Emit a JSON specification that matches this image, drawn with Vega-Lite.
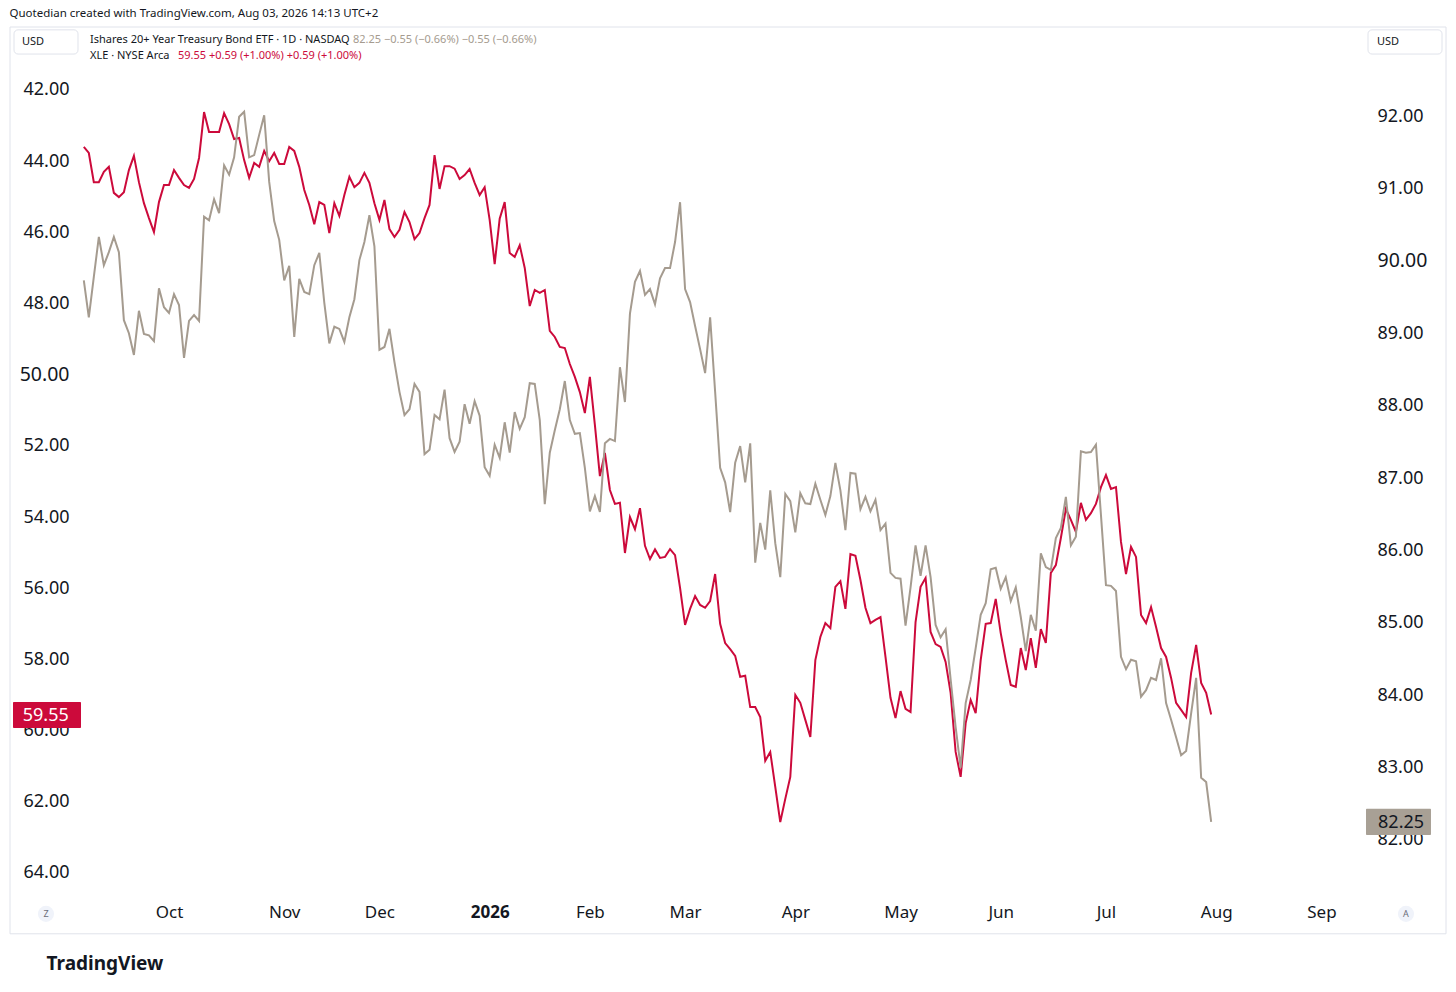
{
  "$schema": "https://vega.github.io/schema/vega-lite/v6.json",
  "width": 1285,
  "height": 868,
  "autosize": {"type": "none"},
  "padding": {"left": 80, "top": 27, "right": 91, "bottom": 97},
  "background": "white",
  "config": {
    "view": {"stroke": null},
    "font": "Noto Sans",
    "text": {"font": "Noto Sans"}
  },
  "title": {
    "text": "Quotedian created with TradingView.com, Aug 03, 2026 14:13 UTC+2",
    "anchor": "start",
    "dx": 0,
    "offset": 7,
    "fontSize": 11.5,
    "fontWeight": "normal",
    "color": "#131722"
  },
  "data": {
    "values": [
      {"t": -17, "xle": 43.60, "tlt": 89.73},
      {"t": -16, "xle": 43.77, "tlt": 89.22},
      {"t": -15, "xle": 44.59, "tlt": 89.78},
      {"t": -14, "xle": 44.59, "tlt": 90.33},
      {"t": -13, "xle": 44.30, "tlt": 89.94},
      {"t": -12, "xle": 44.16, "tlt": 90.12},
      {"t": -11, "xle": 44.89, "tlt": 90.33},
      {"t": -10, "xle": 45.01, "tlt": 90.12},
      {"t": -9, "xle": 44.87, "tlt": 89.18},
      {"t": -8, "xle": 44.25, "tlt": 89.00},
      {"t": -7, "xle": 43.85, "tlt": 88.70},
      {"t": -6, "xle": 44.59, "tlt": 89.31},
      {"t": -5, "xle": 45.18, "tlt": 88.99},
      {"t": -4, "xle": 45.60, "tlt": 88.97},
      {"t": -3, "xle": 45.99, "tlt": 88.89},
      {"t": -2, "xle": 45.15, "tlt": 89.62},
      {"t": -1, "xle": 44.67, "tlt": 89.36},
      {"t": 0, "xle": 44.67, "tlt": 89.28},
      {"t": 1, "xle": 44.25, "tlt": 89.54},
      {"t": 2, "xle": 44.47, "tlt": 89.39},
      {"t": 3, "xle": 44.67, "tlt": 88.66},
      {"t": 4, "xle": 44.75, "tlt": 89.17},
      {"t": 5, "xle": 44.50, "tlt": 89.25},
      {"t": 6, "xle": 43.91, "tlt": 89.17},
      {"t": 7, "xle": 42.62, "tlt": 90.61},
      {"t": 8, "xle": 43.18, "tlt": 90.56},
      {"t": 9, "xle": 43.18, "tlt": 90.85},
      {"t": 10, "xle": 43.18, "tlt": 90.66},
      {"t": 11, "xle": 42.65, "tlt": 91.32},
      {"t": 12, "xle": 42.96, "tlt": 91.19},
      {"t": 13, "xle": 43.38, "tlt": 91.43},
      {"t": 14, "xle": 43.35, "tlt": 91.99},
      {"t": 15, "xle": 43.97, "tlt": 92.06},
      {"t": 16, "xle": 44.47, "tlt": 91.43},
      {"t": 17, "xle": 44.05, "tlt": 91.46},
      {"t": 18, "xle": 44.16, "tlt": 91.74},
      {"t": 19, "xle": 43.71, "tlt": 92.01},
      {"t": 20, "xle": 44.00, "tlt": 91.09},
      {"t": 21, "xle": 43.77, "tlt": 90.55},
      {"t": 22, "xle": 44.08, "tlt": 90.29},
      {"t": 23, "xle": 44.08, "tlt": 89.73},
      {"t": 24, "xle": 43.60, "tlt": 89.93},
      {"t": 25, "xle": 43.71, "tlt": 88.95},
      {"t": 26, "xle": 44.16, "tlt": 89.75},
      {"t": 27, "xle": 44.81, "tlt": 89.57},
      {"t": 28, "xle": 45.23, "tlt": 89.54},
      {"t": 29, "xle": 45.77, "tlt": 89.94},
      {"t": 30, "xle": 45.15, "tlt": 90.11},
      {"t": 31, "xle": 45.23, "tlt": 89.42},
      {"t": 32, "xle": 46.02, "tlt": 88.86},
      {"t": 33, "xle": 45.18, "tlt": 89.09},
      {"t": 34, "xle": 45.54, "tlt": 89.06},
      {"t": 35, "xle": 44.95, "tlt": 88.88},
      {"t": 36, "xle": 44.44, "tlt": 89.22},
      {"t": 37, "xle": 44.73, "tlt": 89.47},
      {"t": 38, "xle": 44.61, "tlt": 90.01},
      {"t": 39, "xle": 44.33, "tlt": 90.26},
      {"t": 40, "xle": 44.61, "tlt": 90.63},
      {"t": 41, "xle": 45.18, "tlt": 90.20},
      {"t": 42, "xle": 45.65, "tlt": 88.77},
      {"t": 43, "xle": 45.09, "tlt": 88.81},
      {"t": 44, "xle": 45.91, "tlt": 89.06},
      {"t": 45, "xle": 46.13, "tlt": 88.60},
      {"t": 46, "xle": 45.93, "tlt": 88.19},
      {"t": 47, "xle": 45.43, "tlt": 87.87},
      {"t": 48, "xle": 45.71, "tlt": 87.95},
      {"t": 49, "xle": 46.19, "tlt": 88.30},
      {"t": 50, "xle": 46.02, "tlt": 88.19},
      {"t": 51, "xle": 45.60, "tlt": 87.33},
      {"t": 52, "xle": 45.23, "tlt": 87.39},
      {"t": 53, "xle": 43.83, "tlt": 87.87},
      {"t": 54, "xle": 44.78, "tlt": 87.81},
      {"t": 55, "xle": 44.14, "tlt": 88.22},
      {"t": 56, "xle": 44.14, "tlt": 87.55},
      {"t": 57, "xle": 44.21, "tlt": 87.36},
      {"t": 58, "xle": 44.50, "tlt": 87.50},
      {"t": 59, "xle": 44.39, "tlt": 88.02},
      {"t": 60, "xle": 44.22, "tlt": 87.75},
      {"t": 61, "xle": 44.61, "tlt": 88.06},
      {"t": 62, "xle": 44.95, "tlt": 87.86},
      {"t": 63, "xle": 44.73, "tlt": 87.15},
      {"t": 64, "xle": 45.65, "tlt": 87.03},
      {"t": 65, "xle": 46.89, "tlt": 87.46},
      {"t": 66, "xle": 45.62, "tlt": 87.28},
      {"t": 67, "xle": 45.15, "tlt": 87.77},
      {"t": 68, "xle": 46.58, "tlt": 87.35},
      {"t": 69, "xle": 46.69, "tlt": 87.91},
      {"t": 70, "xle": 46.36, "tlt": 87.68},
      {"t": 71, "xle": 47.00, "tlt": 87.84},
      {"t": 72, "xle": 48.07, "tlt": 88.31},
      {"t": 73, "xle": 47.62, "tlt": 88.30},
      {"t": 74, "xle": 47.70, "tlt": 87.80},
      {"t": 75, "xle": 47.62, "tlt": 86.64},
      {"t": 76, "xle": 48.77, "tlt": 87.35},
      {"t": 77, "xle": 48.94, "tlt": 87.66},
      {"t": 78, "xle": 49.22, "tlt": 87.95},
      {"t": 79, "xle": 49.25, "tlt": 88.34},
      {"t": 80, "xle": 49.70, "tlt": 87.80},
      {"t": 81, "xle": 50.06, "tlt": 87.61},
      {"t": 82, "xle": 50.49, "tlt": 87.62},
      {"t": 83, "xle": 51.08, "tlt": 87.14},
      {"t": 84, "xle": 50.06, "tlt": 86.54},
      {"t": 85, "xle": 51.41, "tlt": 86.75},
      {"t": 86, "xle": 52.85, "tlt": 86.53},
      {"t": 87, "xle": 52.20, "tlt": 87.48},
      {"t": 88, "xle": 53.24, "tlt": 87.54},
      {"t": 89, "xle": 53.63, "tlt": 87.51},
      {"t": 90, "xle": 53.60, "tlt": 88.53},
      {"t": 91, "xle": 55.01, "tlt": 88.05},
      {"t": 92, "xle": 54.00, "tlt": 89.27},
      {"t": 93, "xle": 54.34, "tlt": 89.71},
      {"t": 94, "xle": 53.75, "tlt": 89.86},
      {"t": 95, "xle": 54.81, "tlt": 89.53},
      {"t": 96, "xle": 55.18, "tlt": 89.61},
      {"t": 97, "xle": 54.91, "tlt": 89.40},
      {"t": 98, "xle": 55.15, "tlt": 89.76},
      {"t": 99, "xle": 55.12, "tlt": 89.90},
      {"t": 100, "xle": 54.90, "tlt": 89.90},
      {"t": 101, "xle": 55.07, "tlt": 90.26},
      {"t": 102, "xle": 55.99, "tlt": 90.81},
      {"t": 103, "xle": 57.03, "tlt": 89.61},
      {"t": 104, "xle": 56.58, "tlt": 89.43},
      {"t": 105, "xle": 56.22, "tlt": 89.10},
      {"t": 106, "xle": 56.47, "tlt": 88.78},
      {"t": 107, "xle": 56.55, "tlt": 88.45},
      {"t": 108, "xle": 56.36, "tlt": 89.22},
      {"t": 109, "xle": 55.60, "tlt": 88.19},
      {"t": 110, "xle": 57.00, "tlt": 87.14},
      {"t": 111, "xle": 57.54, "tlt": 86.94},
      {"t": 112, "xle": 57.71, "tlt": 86.53},
      {"t": 113, "xle": 57.90, "tlt": 87.21},
      {"t": 114, "xle": 58.49, "tlt": 87.44},
      {"t": 115, "xle": 58.46, "tlt": 86.94},
      {"t": 116, "xle": 59.34, "tlt": 87.48},
      {"t": 117, "xle": 59.34, "tlt": 85.83},
      {"t": 118, "xle": 59.62, "tlt": 86.38},
      {"t": 119, "xle": 60.85, "tlt": 86.01},
      {"t": 120, "xle": 60.60, "tlt": 86.83},
      {"t": 121, "xle": 61.58, "tlt": 86.10},
      {"t": 122, "xle": 62.57, "tlt": 85.63},
      {"t": 123, "xle": 61.92, "tlt": 86.78},
      {"t": 124, "xle": 61.30, "tlt": 86.68},
      {"t": 125, "xle": 59.00, "tlt": 86.25},
      {"t": 126, "xle": 59.22, "tlt": 86.79},
      {"t": 127, "xle": 59.70, "tlt": 86.65},
      {"t": 128, "xle": 60.18, "tlt": 86.64},
      {"t": 129, "xle": 58.02, "tlt": 86.92},
      {"t": 130, "xle": 57.37, "tlt": 86.70},
      {"t": 131, "xle": 56.98, "tlt": 86.49},
      {"t": 132, "xle": 57.12, "tlt": 86.75},
      {"t": 133, "xle": 55.96, "tlt": 87.21},
      {"t": 134, "xle": 55.80, "tlt": 86.83},
      {"t": 135, "xle": 56.58, "tlt": 86.28},
      {"t": 136, "xle": 55.04, "tlt": 87.07},
      {"t": 137, "xle": 55.09, "tlt": 87.06},
      {"t": 138, "xle": 55.77, "tlt": 86.57},
      {"t": 139, "xle": 56.55, "tlt": 86.74},
      {"t": 140, "xle": 56.98, "tlt": 86.54},
      {"t": 141, "xle": 56.89, "tlt": 86.70},
      {"t": 142, "xle": 56.81, "tlt": 86.28},
      {"t": 143, "xle": 57.93, "tlt": 86.37},
      {"t": 144, "xle": 59.08, "tlt": 85.69},
      {"t": 145, "xle": 59.65, "tlt": 85.62},
      {"t": 146, "xle": 58.89, "tlt": 85.61},
      {"t": 147, "xle": 59.39, "tlt": 84.96},
      {"t": 148, "xle": 59.48, "tlt": 85.49},
      {"t": 149, "xle": 56.95, "tlt": 86.07},
      {"t": 150, "xle": 55.96, "tlt": 85.65},
      {"t": 151, "xle": 55.71, "tlt": 86.07},
      {"t": 152, "xle": 57.23, "tlt": 85.63},
      {"t": 153, "xle": 57.57, "tlt": 84.97},
      {"t": 154, "xle": 57.65, "tlt": 84.80},
      {"t": 155, "xle": 58.07, "tlt": 84.91},
      {"t": 156, "xle": 58.94, "tlt": 84.22},
      {"t": 157, "xle": 60.60, "tlt": 83.56},
      {"t": 158, "xle": 61.30, "tlt": 83.00},
      {"t": 159, "xle": 59.79, "tlt": 83.89},
      {"t": 160, "xle": 59.14, "tlt": 84.21},
      {"t": 161, "xle": 59.51, "tlt": 84.65},
      {"t": 162, "xle": 58.02, "tlt": 85.11},
      {"t": 163, "xle": 57.00, "tlt": 85.27},
      {"t": 164, "xle": 56.98, "tlt": 85.74},
      {"t": 165, "xle": 56.30, "tlt": 85.76},
      {"t": 166, "xle": 57.26, "tlt": 85.47},
      {"t": 167, "xle": 58.02, "tlt": 85.63},
      {"t": 168, "xle": 58.72, "tlt": 85.30},
      {"t": 169, "xle": 58.77, "tlt": 85.49},
      {"t": 170, "xle": 57.68, "tlt": 85.08},
      {"t": 171, "xle": 58.30, "tlt": 84.61},
      {"t": 172, "xle": 57.40, "tlt": 85.11},
      {"t": 173, "xle": 58.24, "tlt": 84.89},
      {"t": 174, "xle": 57.15, "tlt": 85.96},
      {"t": 175, "xle": 57.54, "tlt": 85.77},
      {"t": 176, "xle": 55.57, "tlt": 85.73},
      {"t": 177, "xle": 55.35, "tlt": 86.17},
      {"t": 178, "xle": 54.59, "tlt": 86.31},
      {"t": 179, "xle": 53.77, "tlt": 86.74},
      {"t": 180, "xle": 54.08, "tlt": 86.07},
      {"t": 181, "xle": 54.42, "tlt": 86.19},
      {"t": 182, "xle": 53.60, "tlt": 87.37},
      {"t": 183, "xle": 54.08, "tlt": 87.35},
      {"t": 184, "xle": 53.89, "tlt": 87.36},
      {"t": 185, "xle": 53.63, "tlt": 87.46},
      {"t": 186, "xle": 53.16, "tlt": 86.49},
      {"t": 187, "xle": 52.82, "tlt": 85.52},
      {"t": 188, "xle": 53.21, "tlt": 85.51},
      {"t": 189, "xle": 53.16, "tlt": 85.44},
      {"t": 190, "xle": 54.70, "tlt": 84.53},
      {"t": 191, "xle": 55.60, "tlt": 84.36},
      {"t": 192, "xle": 54.84, "tlt": 84.49},
      {"t": 193, "xle": 55.12, "tlt": 84.47},
      {"t": 194, "xle": 56.75, "tlt": 83.98},
      {"t": 195, "xle": 56.98, "tlt": 84.07},
      {"t": 196, "xle": 56.53, "tlt": 84.24},
      {"t": 197, "xle": 57.09, "tlt": 84.21},
      {"t": 198, "xle": 57.68, "tlt": 84.51},
      {"t": 199, "xle": 57.93, "tlt": 83.89},
      {"t": 200, "xle": 58.52, "tlt": 83.66},
      {"t": 201, "xle": 59.22, "tlt": 83.42},
      {"t": 202, "xle": 59.42, "tlt": 83.17},
      {"t": 203, "xle": 59.62, "tlt": 83.23},
      {"t": 204, "xle": 58.38, "tlt": 83.75},
      {"t": 205, "xle": 57.59, "tlt": 84.24},
      {"t": 206, "xle": 58.66, "tlt": 82.86},
      {"t": 207, "xle": 58.94, "tlt": 82.80},
      {"t": 208, "xle": 59.55, "tlt": 82.25}
    ]
  },
  "layer": [
    {
      "layer": [
        {
          "data": {"values": [{"part": "frame"}]},
          "mark": {"type": "rect", "fill": null, "stroke": "#e0e3eb", "strokeWidth": 1},
          "encoding": {
            "x": {"datum": -31.73, "type": "quantitative", "title": null},
            "x2": {"datum": 254.87},
            "y": {"datum": 40.23, "type": "quantitative", "title": null},
            "y2": {"datum": 65.71}
          }
        },
        {
          "mark": {"type": "line", "color": "#cc0a3b", "strokeWidth": 2, "interpolate": "linear"},
          "encoding": {
            "x": {
              "field": "t",
              "type": "quantitative",
              "scale": {"domain": [-17.76, 238.7], "nice": false, "zero": false},
              "axis": {
                "values": [0, 23, 42, 64, 84, 103, 125, 146, 166, 187, 209, 230],
                "labelExpr": "['Oct','Nov','Dec','2026','Feb','Mar','Apr','May','Jun','Jul','Aug','Sep'][indexof([0,23,42,64,84,103,125,146,166,187,209,230], datum.value)]",
                "labelFontWeight": {"condition": {"test": "datum.value == 64", "value": "bold"}, "value": "normal"},
                "labelFontSize": 17,
                "labelColor": "#131722",
                "labelPadding": 9,
                "labelFlush": false,
                "grid": false,
                "domain": false,
                "ticks": false,
                "title": "TradingView",
                "titleX": -34,
                "titleY": 68,
                "titleAlign": "left",
                "titleBaseline": "middle",
                "titleFontSize": 19,
                "titleFontWeight": "bold",
                "titleColor": "#131722"
              }
            },
            "y": {
              "field": "xle",
              "type": "quantitative",
              "scale": {"domain": [40.23, 64.62], "reverse": true, "nice": false, "zero": false},
              "axis": {
                "orient": "left",
                "values": [42, 44, 46, 48, 50, 52, 54, 56, 58, 60, 62, 64],
                "format": ".2f",
                "labelFontSize": {"condition": {"test": "datum.value == 50", "value": 19.5}, "value": 18},
                "labelColor": "#131722",
                "labelPadding": 11,
                "labelFlush": false,
                "grid": false,
                "domain": false,
                "ticks": false,
                "title": null
              }
            }
          }
        },
        {
          "data": {"values": [{"label": "Z"}]},
          "mark": {"type": "point", "shape": "circle", "filled": true, "size": 260, "color": "#f0f3fa", "opacity": 1},
          "encoding": {
            "x": {"datum": -24.55, "type": "quantitative", "title": null},
            "y": {"datum": 65.15, "type": "quantitative", "title": null}
          }
        },
        {
          "data": {"values": [{"label": "Z"}]},
          "mark": {"type": "text", "align": "center", "baseline": "middle", "fontSize": 9, "color": "#6a6d78"},
          "encoding": {
            "x": {"datum": -24.55, "type": "quantitative", "title": null},
            "y": {"datum": 65.15, "type": "quantitative", "title": null},
            "text": {"field": "label"}
          }
        },
        {
          "data": {"values": [{"label": "A"}]},
          "mark": {"type": "point", "shape": "circle", "filled": true, "size": 260, "color": "#f0f3fa", "opacity": 1},
          "encoding": {
            "x": {"datum": 246.88, "type": "quantitative", "title": null},
            "y": {"datum": 65.15, "type": "quantitative", "title": null}
          }
        },
        {
          "data": {"values": [{"label": "A"}]},
          "mark": {"type": "text", "align": "center", "baseline": "middle", "fontSize": 9, "color": "#6a6d78"},
          "encoding": {
            "x": {"datum": 246.88, "type": "quantitative", "title": null},
            "y": {"datum": 65.15, "type": "quantitative", "title": null},
            "text": {"field": "label"}
          }
        },
        {
          "data": {"values": [{"part": "usd left"}]},
          "mark": {"type": "rect", "fill": "white", "stroke": "#e0e3eb", "strokeWidth": 1, "cornerRadius": 4},
          "encoding": {
            "x": {"datum": -30.93, "type": "quantitative", "title": null},
            "x2": {"datum": -18.16},
            "y": {"datum": 40.31, "type": "quantitative", "title": null},
            "y2": {"datum": 40.99}
          }
        },
        {
          "data": {"values": [{"label": "USD"}]},
          "mark": {"type": "text", "align": "left", "baseline": "middle", "fontSize": 11, "color": "#131722"},
          "encoding": {
            "x": {"datum": -29.33, "type": "quantitative", "title": null},
            "y": {"datum": 40.65, "type": "quantitative", "title": null},
            "text": {"field": "label"}
          }
        },
        {
          "data": {"values": [{"part": "usd right"}]},
          "mark": {"type": "rect", "fill": "white", "stroke": "#e0e3eb", "strokeWidth": 1, "cornerRadius": 4},
          "encoding": {
            "x": {"datum": 239.3, "type": "quantitative", "title": null},
            "x2": {"datum": 254.07},
            "y": {"datum": 40.31, "type": "quantitative", "title": null},
            "y2": {"datum": 40.99}
          }
        },
        {
          "data": {"values": [{"label": "USD"}]},
          "mark": {"type": "text", "align": "left", "baseline": "middle", "fontSize": 11, "color": "#131722"},
          "encoding": {
            "x": {"datum": 241.1, "type": "quantitative", "title": null},
            "y": {"datum": 40.65, "type": "quantitative", "title": null},
            "text": {"field": "label"}
          }
        },
        {
          "data": {"values": [{"label": "Ishares 20+ Year Treasury Bond ETF · 1D · NASDAQ"}]},
          "mark": {"type": "text", "align": "left", "baseline": "middle", "fontSize": 11, "color": "#131722"},
          "encoding": {
            "x": {"datum": -15.76, "type": "quantitative", "title": null},
            "y": {"datum": 40.6, "type": "quantitative", "title": null},
            "text": {"field": "label"}
          }
        },
        {
          "data": {"values": [{"label": "82.25  −0.55 (−0.66%)  −0.55 (−0.66%)"}]},
          "mark": {"type": "text", "align": "left", "baseline": "middle", "fontSize": 11, "color": "#a59b8f"},
          "encoding": {
            "x": {"datum": 36.73, "type": "quantitative", "title": null},
            "y": {"datum": 40.6, "type": "quantitative", "title": null},
            "text": {"field": "label"}
          }
        },
        {
          "data": {"values": [{"label": "XLE · NYSE Arca"}]},
          "mark": {"type": "text", "align": "left", "baseline": "middle", "fontSize": 11, "color": "#131722"},
          "encoding": {
            "x": {"datum": -15.76, "type": "quantitative", "title": null},
            "y": {"datum": 41.05, "type": "quantitative", "title": null},
            "text": {"field": "label"}
          }
        },
        {
          "data": {"values": [{"label": "59.55  +0.59 (+1.00%)  +0.59 (+1.00%)"}]},
          "mark": {"type": "text", "align": "left", "baseline": "middle", "fontSize": 11, "color": "#cc0a3b"},
          "encoding": {
            "x": {"datum": 1.8, "type": "quantitative", "title": null},
            "y": {"datum": 41.05, "type": "quantitative", "title": null},
            "text": {"field": "label"}
          }
        },
        {
          "data": {"values": [{"part": "xle price box"}]},
          "mark": {"type": "rect", "fill": "#cc0a3b", "cornerRadius": 1},
          "encoding": {
            "x": {"datum": -31.13, "type": "quantitative", "title": null},
            "x2": {"datum": -17.56},
            "y": {"datum": 59.2, "type": "quantitative", "title": null},
            "y2": {"datum": 59.93}
          }
        },
        {
          "data": {"values": [{"label": "59.55"}]},
          "mark": {"type": "text", "align": "center", "baseline": "middle", "fontSize": 18, "color": "white"},
          "encoding": {
            "x": {"datum": -24.6, "type": "quantitative", "title": null},
            "y": {"datum": 59.58, "type": "quantitative", "title": null},
            "text": {"field": "label"}
          }
        }
      ]
    },
    {
      "layer": [
        {
          "mark": {"type": "line", "color": "#a59b8f", "strokeWidth": 2, "interpolate": "linear"},
          "encoding": {
            "x": {"field": "t", "type": "quantitative"},
            "y": {
              "field": "tlt",
              "type": "quantitative",
              "scale": {"domain": [81.24, 93.23], "nice": false, "zero": false},
              "axis": {
                "orient": "right",
                "values": [82, 83, 84, 85, 86, 87, 88, 89, 90, 91, 92],
                "format": ".2f",
                "labelFontSize": {"condition": {"test": "datum.value == 90", "value": 19.5}, "value": 18},
                "labelColor": "#131722",
                "labelPadding": 12,
                "labelFlush": false,
                "grid": false,
                "domain": false,
                "ticks": false,
                "title": null
              }
            }
          }
        },
        {
          "data": {"values": [{"part": "tlt price box"}]},
          "mark": {"type": "rect", "fill": "#a8a095", "cornerRadius": 1},
          "encoding": {
            "x": {"datum": 238.9, "type": "quantitative", "title": null},
            "x2": {"datum": 251.87},
            "y": {"datum": 82.07, "type": "quantitative", "title": null},
            "y2": {"datum": 82.43}
          }
        },
        {
          "data": {"values": [{"label": "82.25"}]},
          "mark": {"type": "text", "align": "center", "baseline": "middle", "fontSize": 18, "color": "#131722"},
          "encoding": {
            "x": {"datum": 245.9, "type": "quantitative", "title": null},
            "y": {"datum": 82.24, "type": "quantitative", "title": null},
            "text": {"field": "label"}
          }
        }
      ]
    }
  ],
  "resolve": {"scale": {"y": "independent"}, "axis": {"y": "independent"}}
}
